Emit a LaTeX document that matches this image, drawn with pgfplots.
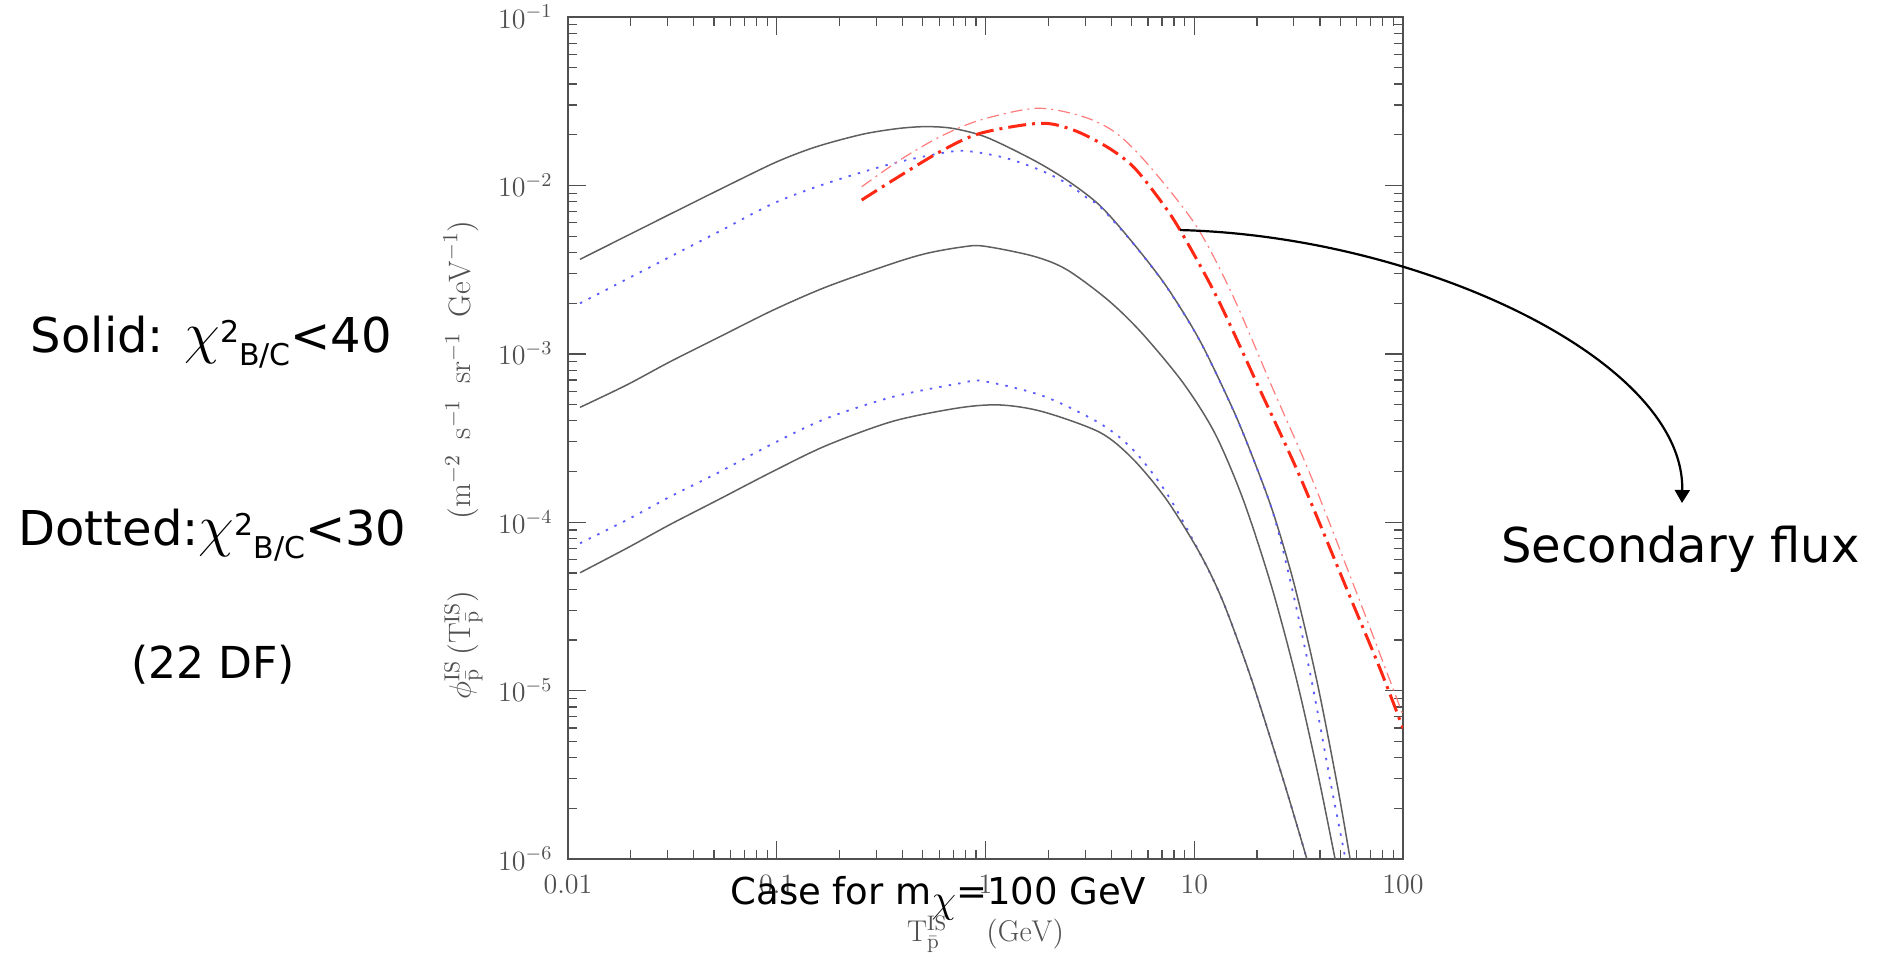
\RequirePackage{fix-cm}
\documentclass[border=0pt]{standalone}
\usepackage{fontspec}
\usepackage{pgfplots}
\pgfplotsset{compat=1.18}
\usetikzlibrary{arrows.meta}

\newfontfamily\anfont{DejaVu Sans}

\definecolor{axgray}{RGB}{80,80,80}
\definecolor{solidgray}{RGB}{95,95,95}
\definecolor{dotblue}{RGB}{90,90,255}
\definecolor{redthick}{RGB}{255,40,20}
\definecolor{redthin}{RGB}{255,125,125}

\begin{document}
\begin{tikzpicture}
\useasboundingbox (0,0) rectangle (940pt,477.5pt);
\begin{axis}[
    at={(284pt,48pt)}, anchor=south west,
    scale only axis, width=417.5pt, height=421pt,
    xmode=log, ymode=log,
    xmin=0.01, xmax=100, ymin=1e-6, ymax=1e-1,
    xtick={0.01,0.1,1,10,100},
    xticklabels={0.01,0.1,1,10,100},
    ytick={1e-6,1e-5,1e-4,1e-3,1e-2,1e-1},
    minor xtick={0.02,0.03,0.04,0.05,0.06,0.07,0.08,0.09,
                 0.2,0.3,0.4,0.5,0.6,0.7,0.8,0.9,
                 2,3,4,5,6,7,8,9,20,30,40,50,60,70,80,90},
    minor ytick={2e-6,3e-6,4e-6,5e-6,6e-6,7e-6,8e-6,9e-6,
                 2e-5,3e-5,4e-5,5e-5,6e-5,7e-5,8e-5,9e-5,
                 2e-4,3e-4,4e-4,5e-4,6e-4,7e-4,8e-4,9e-4,
                 2e-3,3e-3,4e-3,5e-3,6e-3,7e-3,8e-3,9e-3,
                 2e-2,3e-2,4e-2,5e-2,6e-2,7e-2,8e-2,9e-2},
    tick align=inside,
    major tick length=9pt, minor tick length=4.5pt,
    axis line style={draw=axgray, line width=0.8pt},
    every major tick/.style={draw=axgray, line width=0.7pt},
    every minor tick/.style={draw=axgray, line width=0.6pt},
    ticklabel style={font=\fontsize{14}{16}\selectfont, text=axgray},
    xticklabel style={yshift=-4.3pt},
    yticklabel style={anchor=base east, yshift=-5.5pt, xshift=-4.3pt},
    xlabel={$\mathrm{T}^{\mathrm{IS}}_{\bar{\mathrm{p}}}$\hspace{1.3em}$(\mathrm{GeV})$},
    ylabel={$\phi^{\mathrm{IS}}_{\bar{\mathrm{p}}}\,(\mathrm{T}^{\mathrm{IS}}_{\bar{\mathrm{p}}})$\hspace{2.3em}$(\mathrm{m}^{-2}\enspace\mathrm{s}^{-1}\enspace\mathrm{sr}^{-1}\enspace\mathrm{GeV}^{-1})$},
    label style={font=\fontsize{15.5}{17}\selectfont, text=axgray},
    xlabel style={font=\fontsize{15}{17}\selectfont, at={(axis description cs:0.5,0)}, anchor=base, yshift=-41pt},
    ylabel style={at={(axis description cs:-0.1257,0.474)}, anchor=center},
    clip=true,
]
% solid, upper
\addplot[draw=solidgray, line width=0.75pt, smooth] coordinates {
    (0.01142,3.64e-3) (0.0191,5.012e-3) (0.0308,6.745e-3) (0.0535,9.48e-3)
    (0.0963,1.352e-2) (0.139,1.622e-2) (0.1866,1.817e-2) (0.2698,2.037e-2)
    (0.389,2.183e-2) (0.522,2.234e-2) (0.7015,2.178e-2) (1.014,1.928e-2)
    (1.694,1.416e-2) (2.449,1.076e-2) (3.536,7.586e-3) (5.105,4.529e-3)
    (7.379,2.50e-3) (10.65,1.194e-3) (15.38,4.634e-4) (19.19,2.377e-4)
    (23.93,1.130e-4) (30.20,4.227e-5) (38.60,1.156e-5) (48.14,2.864e-6)
    (55.72,1.009e-6) (58.88,6.31e-7)
};
% dotted, upper
\addplot[draw=dotblue, line width=0.9pt, dash pattern=on 1.2pt off 3.6pt, smooth] coordinates {
    (0.01142,1.995e-3) (0.0191,2.773e-3) (0.0308,3.767e-3) (0.0535,5.358e-3)
    (0.0963,7.816e-3) (0.1734,1.029e-2) (0.3614,1.352e-2) (0.6761,1.585e-2)
    (0.875,1.585e-2) (1.264,1.449e-2) (1.824,1.234e-2) (2.449,1.029e-2)
    (3.167,8.19e-3) (3.536,7.50e-3) (5.105,4.51e-3) (7.379,2.49e-3)
    (10.65,1.19e-3) (15.38,4.62e-4) (19.19,2.37e-4) (23.93,1.12e-4)
    (29.17,4.227e-5) (36.44,1.156e-5) (44.93,2.864e-6) (52.9,1.009e-6)
    (55.9,6.31e-7)
};
% solid, middle
\addplot[draw=solidgray, line width=0.75pt, smooth] coordinates {
    (0.01142,4.81e-4) (0.0191,6.53e-4) (0.0308,8.97e-4) (0.0535,1.265e-3)
    (0.0963,1.82e-3) (0.1734,2.50e-3) (0.3614,3.45e-3) (0.523,3.95e-3)
    (0.7551,4.29e-3) (0.9727,4.365e-3) (1.694,3.802e-3) (2.449,3.162e-3)
    (3.864,2.084e-3) (5.623,1.324e-3) (8.872,6.683e-4) (12.59,3.350e-4)
    (17.18,1.355e-4) (23.44,4.169e-5) (30.94,1.156e-5) (38.90,3.304e-6)
    (47.21,1.009e-6) (49.0,7.9e-7)
};
% dotted, lower
\addplot[draw=dotblue, line width=0.9pt, dash pattern=on 1.2pt off 3.6pt, smooth] coordinates {
    (0.01142,7.50e-5) (0.0191,1.03e-4) (0.0308,1.416e-4) (0.0535,1.995e-4)
    (0.0963,2.94e-4) (0.1734,4.14e-4) (0.3614,5.56e-4) (0.7551,6.68e-4)
    (0.9727,6.89e-4) (1.884,5.62e-4) (3.536,3.86e-4) (5.105,2.685e-4)
    (7.379,1.486e-4) (10.65,6.53e-5) (13.77,3.35e-5) (18.85,1.156e-5)
    (26.72,2.944e-6) (34.57,1.009e-6) (36.6,7.9e-7)
};
% solid, lower
\addplot[draw=solidgray, line width=0.75pt, smooth] coordinates {
    (0.01142,5.012e-5) (0.0191,6.998e-5) (0.0308,9.683e-5) (0.0535,1.377e-4)
    (0.0963,2.009e-4) (0.1734,2.858e-4) (0.3614,3.981e-4) (0.7551,4.786e-4)
    (1.186,4.966e-4) (1.884,4.529e-4) (3.536,3.412e-4) (5.105,2.360e-4)
    (7.379,1.358e-4) (10.65,6.516e-5) (13.77,3.35e-5) (18.85,1.156e-5)
    (26.72,2.944e-6) (34.57,1.009e-6) (36.6,7.9e-7)
};
% secondary flux, thin
\addplot[draw=redthin, line width=0.6pt, dash pattern=on 6pt off 2.5pt on 1pt off 2.5pt, smooth] coordinates {
    (0.2553,9.82e-3) (0.3894,1.416e-2) (0.6053,1.945e-2) (0.9419,2.443e-2)
    (1.758,2.871e-2) (2.942,2.559e-2) (4.246,2.037e-2) (6.138,1.291e-2)
    (10.27,5.69e-3) (15.38,2.183e-3) (23.93,6.10e-4) (36.31,1.862e-4)
    (60.95,3.61e-5) (100,7.16e-6)
};
% secondary flux, thick
\addplot[draw=redthick, line width=1.5pt, dash pattern=on 9pt off 3pt on 1.5pt off 3pt, smooth] coordinates {
    (0.2553,8.19e-3) (0.3614,1.076e-2) (0.6053,1.585e-2) (0.9419,2.037e-2)
    (1.824,2.339e-2) (2.635,2.133e-2) (3.806,1.698e-2) (5.105,1.291e-2)
    (6.855,8.19e-3) (8.551,5.43e-3) (12.81,2.18e-3) (20.65,6.10e-4)
    (32.11,1.862e-4) (55.72,3.61e-5) (77.62,1.349e-5) (100,5.97e-6)
};
\coordinate (arrowstart) at (axis cs:8.551,5.43e-3);
\end{axis}

\draw[line width=1.1pt, -{Triangle[length=6.5pt,width=7.5pt]}]
    (arrowstart) .. controls (710pt,359.5pt) and (842.5pt,297.5pt) .. (841pt,226pt);

\node[anchor=base, inner sep=0pt] at (105.75pt,301.2pt)
    {\anfont\fontsize{24}{28}\selectfont Solid: {\fontsize{29}{30}\selectfont$\chi$}\raisebox{5pt}{\fontsize{15}{15}\selectfont 2}\raisebox{-6.5pt}{\fontsize{15}{15}\selectfont B/C}<40};
\node[anchor=base, inner sep=0pt] at (106.25pt,205pt)
    {\anfont\fontsize{24}{28}\selectfont Dotted:{\fontsize{29}{30}\selectfont$\chi$}\raisebox{5pt}{\fontsize{15}{15}\selectfont 2}\raisebox{-6.5pt}{\fontsize{15}{15}\selectfont B/C}<30};
\node[anchor=base, inner sep=0pt] at (106.5pt,138.5pt)
    {\anfont\fontsize{22}{26}\selectfont (22 DF)};
\node[anchor=base, inner sep=0pt] at (840.25pt,196.2pt)
    {\anfont\fontsize{24}{28}\selectfont Secondary flux};
\node[anchor=base, inner sep=0pt] at (469.25pt,25.2pt)
    {\anfont\fontsize{18.5}{22}\selectfont Case for m\raisebox{-4pt}{\fontsize{20}{22}\selectfont$\chi$}=100 GeV};
\end{tikzpicture}
\end{document}
